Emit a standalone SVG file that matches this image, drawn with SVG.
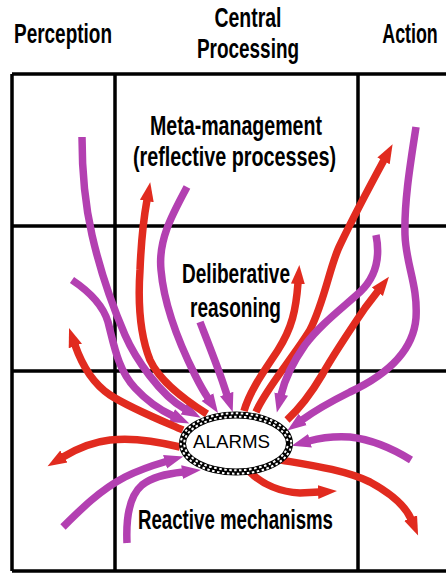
<svg xmlns="http://www.w3.org/2000/svg" width="446" height="573" viewBox="0 0 446 573">
<style>
.t{font-family:"Liberation Sans",Arial,sans-serif;font-weight:bold;font-size:27px;fill:#000;text-anchor:middle}
.grid{stroke:#000;stroke-width:3.5;fill:none}
.r{fill:none;stroke:#e12b1f;stroke-width:7.5;marker-end:url(#hr)}
.p{fill:none;stroke:#b340b1;stroke-width:7.5;marker-end:url(#hp)}
</style>
<defs>
<marker id="hr" markerUnits="userSpaceOnUse" markerWidth="20" markerHeight="16" refX="1" refY="8" orient="auto" viewBox="0 0 20 16"><path d="M0,1 L19,8 L0,15 z" fill="#e12b1f"/></marker>
<marker id="hp" markerUnits="userSpaceOnUse" markerWidth="20" markerHeight="16" refX="1" refY="8" orient="auto" viewBox="0 0 20 16"><path d="M0,1 L19,8 L0,15 z" fill="#b340b1"/></marker>
</defs>
<rect width="446" height="573" fill="#fff"/>
<g id="headers">
<text class="t" x="63" y="43" textLength="98" lengthAdjust="spacingAndGlyphs">Perception</text>
<text class="t" x="248" y="27" textLength="67" lengthAdjust="spacingAndGlyphs">Central</text>
<text class="t" x="248" y="58" textLength="102" lengthAdjust="spacingAndGlyphs">Processing</text>
<text class="t" transform="translate(410,43) scale(0.66,1)" x="0" y="0">Action</text>
</g>
<g id="grid" class="grid">
<path d="M12,74 H448 M12,226 H448 M12,371 H448 M12,571 H448"/>
<path d="M12,74 V571 M115,74 V571 M358,74 V571"/>
</g>
<g id="connectors">
<path class="p" d="M82,137 C82,170 84,200 92,235 C100,270 112,305 125,335 C135,358 160,395 185,409"/>
<path class="p" d="M72,280 C90,292 103,305 108,322 C114,345 118,370 135,388 C148,402 160,410 173,416"/>
<path class="r" d="M183,430 C160,420 130,408 110,395 C92,383 82,365 75,345"/>
<path class="r" d="M180,447 C160,442 135,437 110,440 C92,442 78,448 63,457"/>
<path class="p" d="M63,527 C80,510 100,490 125,477 C137,471 154,465 166,461.5"/>
<path class="p" d="M127,543 C126,520 128,497 142,485 C152,477 165,474 183,472"/>
<path class="r" d="M207,414 C185,400 160,382 150,360 C140,335 138,300 140,270 C141,245 143,222 147,200"/>
<path class="p" d="M187,187 C172,215 158,240 161,270 C164,305 180,345 195,375 C200,385 204,392 208,398"/>
<path class="p" d="M200,322 C207,340 215,360 222,380 L227,395"/>
<path class="r" d="M244,411 C250,390 265,370 278,350 C292,328 296,310 298,283"/>
<path class="r" d="M256,412 C265,390 295,355 310,330 C325,300 330,265 340,245 C352,220 365,195 384,160"/>
<path class="p" d="M376,235 C380,255 378,275 360,292 C340,310 320,325 305,345 C293,362 285,378 281,395"/>
<path class="r" d="M287,420 C300,408 312,392 322,375 C335,352 350,330 365,308 L378,291"/>
<path class="p" d="M416,127 C411,160 404,200 405,235 C406,265 418,285 416,318 C413,355 380,378 350,392 C330,402 313,412 302,420"/>
<path class="p" d="M411,460 C395,450 375,440 350,437 C335,436 320,438 309,441"/>
<path class="r" d="M281,460 C310,465 345,470 370,482 C392,494 405,505 411,519"/>
<path class="r" d="M250,472 C262,484 280,492 300,493 L319,492"/>
</g>
<g id="alarms">
<ellipse cx="236" cy="443.5" rx="53.5" ry="28.5" fill="#fff" stroke="#000" stroke-width="7"/>
<ellipse cx="236" cy="443.5" rx="55.2" ry="30.2" fill="none" stroke="#fff" stroke-width="2" stroke-dasharray="2.5 2.5"/>
<ellipse cx="236" cy="443.5" rx="51.8" ry="26.8" fill="none" stroke="#fff" stroke-width="2" stroke-dasharray="2.5 2.5" stroke-dashoffset="2.5"/>
<text x="231.5" y="448" font-family="'Liberation Sans',Arial,sans-serif" font-size="17.5" text-anchor="middle" textLength="77" lengthAdjust="spacingAndGlyphs">ALARMS</text>
</g>
<g id="meta">
<text class="t" x="236" y="135" textLength="172" lengthAdjust="spacingAndGlyphs">Meta-management</text>
<text class="t" x="234.5" y="166" textLength="203" lengthAdjust="spacingAndGlyphs">(reflective processes)</text>
</g>
<g id="deliberative">
<text class="t" x="236" y="283" textLength="108" lengthAdjust="spacingAndGlyphs">Deliberative</text>
<text class="t" x="235.5" y="317" textLength="91" lengthAdjust="spacingAndGlyphs">reasoning</text>
</g>
<g id="reactive">
<text class="t" x="235.5" y="529" textLength="195" lengthAdjust="spacingAndGlyphs">Reactive mechanisms</text>
</g>
</svg>
